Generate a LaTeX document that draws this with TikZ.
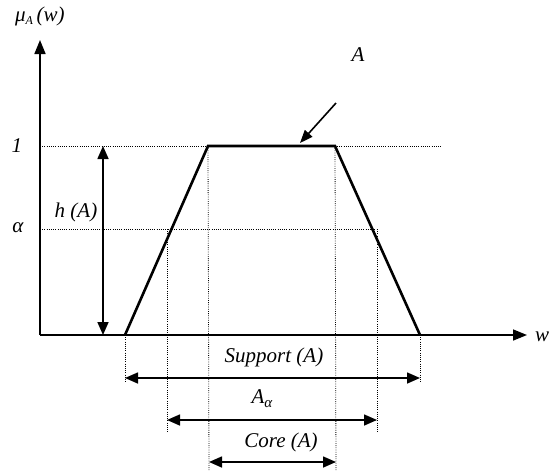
\documentclass[tikz,border=0pt]{standalone}
\usepackage{fontspec}
\setmainfont{Liberation Serif}
\usetikzlibrary{arrows.meta}
\newcommand{\subsc}[1]{\raisebox{-0.35ex}{\fontsize{12}{13}\selectfont\itshape #1}}
\newcommand{\subbig}[1]{\raisebox{-0.4ex}{\fontsize{15}{16}\selectfont\itshape #1}}
\begin{document}
\begin{tikzpicture}[x=1pt,y=-1pt,
  lbl/.style={font=\fontsize{21}{23}\selectfont\itshape, inner sep=0pt},
  axis/.style={line width=1.6pt, -{Triangle[length=14pt,width=11pt]}},
  dim/.style={line width=1.6pt, {Triangle[length=13pt,width=11pt]}-{Triangle[length=13pt,width=11pt]}},
  guide/.style={line width=0.8pt, dash pattern=on 0.8pt off 1.4pt},
  fuzzy/.style={line width=2.6pt, line join=miter}]
\useasboundingbox (0,0) rectangle (549,472);
% axes
\coordinate (O) at (40,335);
\coordinate (ytop) at (40,40);
\coordinate (xend) at (527,335);
\draw[axis] (O) -- (ytop);
\draw[axis] (O) -- (xend);
\node[lbl, anchor=west] (mu) at (15,16) {μ\subsc{A}\,(w)};
\node[lbl, anchor=west] (wlab) at (535,337) {w};
% levels
\coordinate (l1L) at (40,146);
\coordinate (l1R) at (441,146);
\coordinate (laL) at (40,229);
\coordinate (laR) at (377,229);
\draw[guide] (l1L) -- (l1R);
\draw[guide] (laL) -- (laR);
\node[lbl] (one) at (17,146) {1};
\node[lbl] (alpha) at (18,228) {α};
% trapezoid
\coordinate (a) at (125,335);
\coordinate (b) at (208,146);
\coordinate (c) at (335,146);
\coordinate (d) at (420,335);
\coordinate (aa) at (167,229);
\coordinate (da) at (377,229);
\draw[fuzzy] (a) -- (b) -- (c) -- (d);
% vertical guides
\coordinate (ga) at (125,382);
\coordinate (gd) at (420,382);
\coordinate (gaa) at (167,432);
\coordinate (gda) at (377,432);
\coordinate (gb) at (209,470);
\coordinate (gc) at (336,470);
\draw[guide] (a) -- (ga);
\draw[guide] (d) -- (gd);
\draw[guide] (aa) -- (gaa);
\draw[guide] (da) -- (gda);
\draw[guide] (b) -- (gb);
\draw[guide] (c) -- (gc);
% height arrow
\coordinate (h1) at (103,146);
\coordinate (h0) at (103,335);
\draw[dim] (h1) -- (h0);
\node[lbl] (hA) at (76,212) {h (A)};
% A label and pointer
\node[lbl] (Alab) at (358,55) {A};
\coordinate (pfrom) at (336,103);
\coordinate (pto) at (300,143);
\draw[line width=1.6pt, -{Triangle[length=13pt,width=10pt]}] (pfrom) -- (pto);
% dimension arrows
\coordinate (s1) at (125,378);
\coordinate (s2) at (420,378);
\draw[dim] (s1) -- (s2);
\node[lbl] (supp) at (274,357) {Support (A)};
\coordinate (al1) at (167,420);
\coordinate (al2) at (377,420);
\draw[dim] (al1) -- (al2);
\node[lbl] (Aalpha) at (262,399) {A\subbig{α}};
\coordinate (c1) at (209,462);
\coordinate (c2) at (336,462);
\draw[dim] (c1) -- (c2);
\node[lbl] (core) at (281,442) {Core (A)};
\end{tikzpicture}
\end{document}
